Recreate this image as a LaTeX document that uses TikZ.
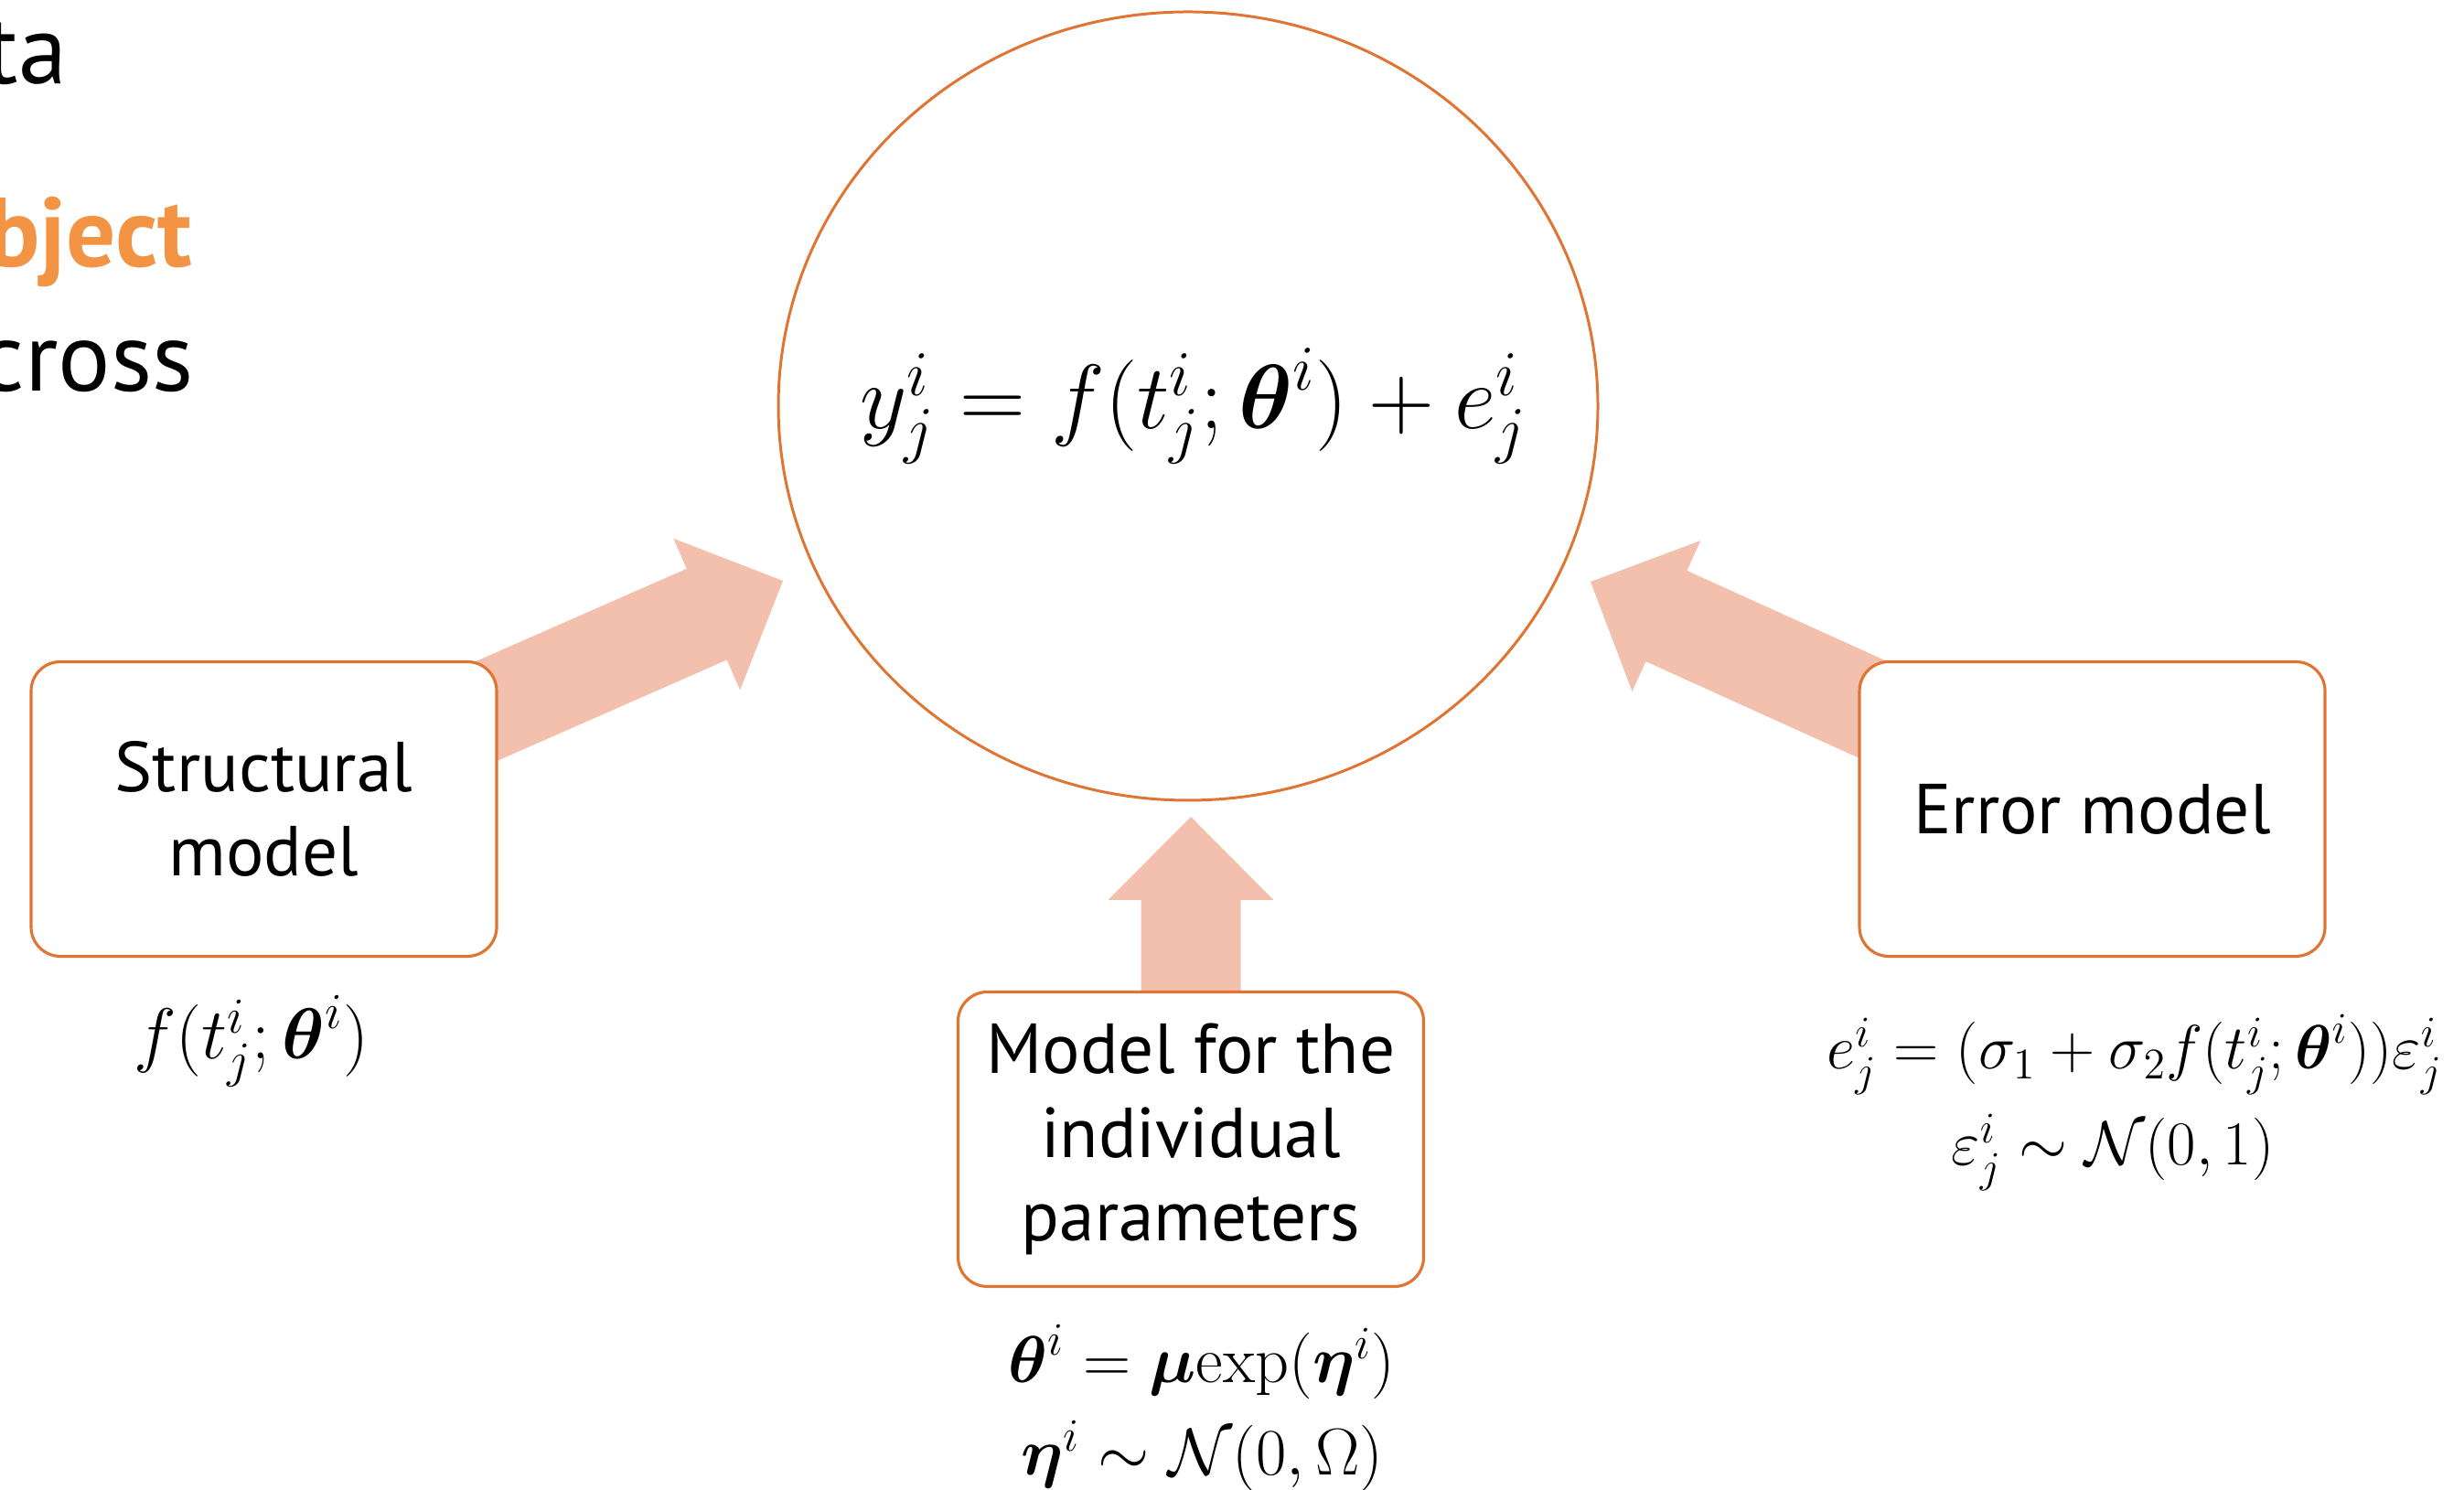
\documentclass[tikz,border=0pt]{standalone}
\usepackage{fix-cm}
\usepackage{amsmath}
\usepackage{fontspec}
\newfontfamily\ptsans{PT Sans}
\usetikzlibrary{calc,shapes.geometric,backgrounds}
\definecolor{ringorange}{RGB}{224,116,50}
\definecolor{arrowpink}{RGB}{244,192,174}
\definecolor{keyorange}{RGB}{242,148,68}
\begin{document}
\begin{tikzpicture}[
  modelbox/.style={draw=ringorange, line width=0.9pt, rounded corners=0.32cm, fill=white,
    minimum width=5.09cm, minimum height=3.22cm, align=center,
    font=\ptsans\fontsize{22}{26}\selectfont},
  formula/.style={anchor=base, font=\fontsize{20.6}{24}\selectfont},
  slidetext/.style={anchor=base east, inner sep=0pt, font=\ptsans\fontsize{30.5}{36}\selectfont}]
\useasboundingbox (0,0) rectangle (26.94,16.29);
% slide text cut off at the left edge
\node[slidetext] (data) at (0.74,15.37) {ta};
\node[slidetext, text=keyorange, font=\ptsans\bfseries\fontsize{30.5}{36}\selectfont] (subj) at (2.11,13.37) {bject};
\node[slidetext] (across) at (2.12,12.01) {cross};
% observation model
\node[ellipse, draw=ringorange, line width=0.85pt, minimum width=8.96cm, minimum height=8.62cm,
  inner sep=0pt] (obs) at (12.99,11.85) {};
\node[font=\fontsize{28.4}{34}\selectfont] (obseq) at (13.05,11.85)
  {$y_j^i = f(t_j^i;\boldsymbol{\theta}^i) + e_j^i$};
\node[modelbox] (struct) at (2.885,7.445) {Structural\\model};
\node[modelbox] (param) at (13.02,3.835) {Model for the\\individual\\parameters};
\node[modelbox] (err) at (22.875,7.445) {Error model};
% formulas under the boxes
\node[formula, font=\fontsize{22.4}{27}\selectfont] (fstruct) at (2.75,4.71) {$f(t_j^i;\boldsymbol{\theta}^i)$};
\node[formula] (fparam) at (13.14,1.17) {$\boldsymbol{\theta}^i = \boldsymbol{\mu}\mathrm{exp}(\boldsymbol{\eta}^i)$};
\node[formula] (fprior) at (13.14,0.16) {$\boldsymbol{\eta}^i \sim \mathcal{N}(0,\Omega)$};
\node[formula, font=\fontsize{19.4}{23}\selectfont] (ferr) at (23.34,4.60) {$e_j^i = (\sigma_1 + \sigma_2 f(t_j^i;\boldsymbol{\theta}^i))\varepsilon_j^i$};
\node[formula, font=\fontsize{19.4}{23}\selectfont] (fnoise) at (23.10,3.55) {$\varepsilon_j^i \sim \mathcal{N}(0,1)$};
% block arrows into the circle
\coordinate (ltip) at (8.56,9.94);
\coordinate (mtip) at (13.02,7.36);
\coordinate (rtip) at (17.39,9.93);
\begin{scope}[on background layer]
\foreach \from/\to in {struct/ltip, param/mtip, err/rtip} {
  \path ($(\to)!0.91cm!(\from.center)$) coordinate (head);
  \fill[arrowpink] ($(\from.center)!0.545cm!90:(\to)$) -- ($(head)!0.545cm!90:(\to)$)
    -- ($(head)!0.905cm!90:(\to)$) -- (\to) -- ($(head)!0.905cm!-90:(\to)$)
    -- ($(head)!0.545cm!-90:(\to)$) -- ($(\from.center)!0.545cm!-90:(\to)$) -- cycle;
}
\end{scope}
\end{tikzpicture}
\end{document}
